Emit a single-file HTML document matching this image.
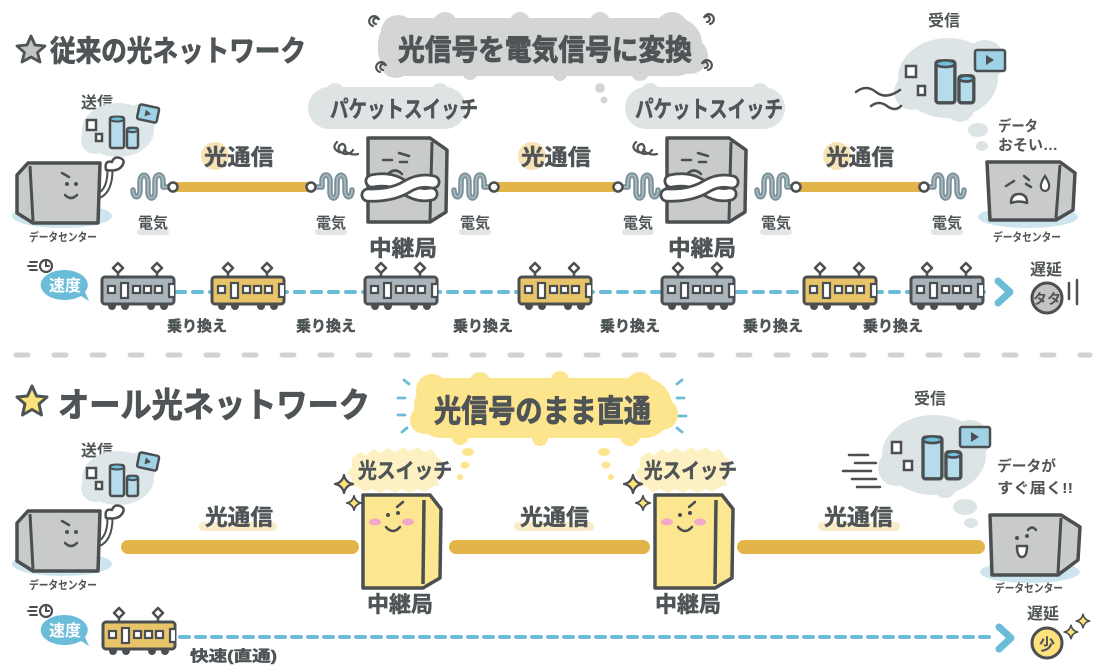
<!DOCTYPE html>
<html><head><meta charset="utf-8">
<style>
html,body{margin:0;padding:0;background:#fff;}
svg{display:block;}
text{font-family:"Liberation Sans","Noto Sans CJK JP",sans-serif;font-weight:bold;fill:#4f5456;}
.thick{stroke:#4f5456;stroke-width:0.9;stroke-linejoin:round;}
.mid{stroke:#4f5456;stroke-width:0.5;stroke-linejoin:round;}
</style></head>
<body>
<svg width="1101" height="672" viewBox="0 0 1101 672" xmlns="http://www.w3.org/2000/svg">
<defs>
  <g id="train">
    <path d="M16,-14 l5,5 l-5,5 l-5,-5z M55,-14 l5,5 l-5,5 l-5,-5z" fill="#fff" stroke="#4b4f51" stroke-width="2.5" stroke-linejoin="round"/>
    <path d="M16,-4 v4 M55,-4 v4" stroke="#4b4f51" stroke-width="2.5"/>
    <circle cx="10" cy="29" r="4" fill="#4b4f51"/><circle cx="23" cy="29" r="4" fill="#4b4f51"/>
    <circle cx="49" cy="29" r="4" fill="#4b4f51"/><circle cx="62" cy="29" r="4" fill="#4b4f51"/>
    <rect x="0" y="0" width="72" height="27" rx="3" fill="currentColor" stroke="#4b4f51" stroke-width="3"/>
    <g fill="#fff" stroke="#4b4f51" stroke-width="2.2">
      <rect x="6" y="9" width="7" height="7"/><rect x="19" y="6" width="7" height="15"/>
      <rect x="31" y="9" width="7" height="7"/><rect x="42" y="9" width="7" height="7"/>
      <rect x="53" y="9" width="7" height="7"/><path d="M72,7 h-5 v13 h5"/>
    </g>
  </g>
  <path id="wavep" d="M0,3 C0,12 7,12 7,3 L7,-5 C7,-14 15,-14 15,-5 L15,5 C15,13 22,13 22,5 L22,-6 C22,-14 30,-14 30,-6 L30,0 L36,0"/>
  <g id="wave">
    <use href="#wavep" fill="none" stroke="#7b9099" stroke-width="5.5" stroke-linecap="round" stroke-linejoin="round"/>
    <use href="#wavep" fill="none" stroke="#a3b5bc" stroke-width="2" stroke-linecap="round" stroke-linejoin="round"/>
  </g>
  <g id="spark"><path d="M0,-9 Q1.5,-1.5 9,0 Q1.5,1.5 0,9 Q-1.5,1.5 -9,0 Q-1.5,-1.5 0,-9z" fill="#fbe27a" stroke="#4b4f51" stroke-width="2.2" stroke-linejoin="round"/></g>
  <g id="cyls">
    <rect x="0" y="0" width="14" height="31" rx="2" fill="#b6dcec" stroke="#4b4f51" stroke-width="2.5"/>
    <ellipse cx="7" cy="2" rx="7" ry="2.5" fill="#6fc0dd" stroke="#4b4f51" stroke-width="2"/>
    <rect x="17" y="11" width="11" height="20" rx="2" fill="#b6dcec" stroke="#4b4f51" stroke-width="2.5"/>
    <ellipse cx="22.5" cy="13" rx="5.5" ry="2.2" fill="#6fc0dd" stroke="#4b4f51" stroke-width="2"/>
  </g>
</defs>

<!-- ================= TOP SECTION ================= -->
<polygon points="31,36 35,45 45,46 37.5,52.5 40,62 31,57 22,62 24.5,52.5 17,46 27,45" fill="#c3c4c4" stroke="#4f5456" stroke-width="2.8" stroke-linejoin="round"/>
<text class="thick" x="50" y="61" font-size="29" textLength="256" lengthAdjust="spacingAndGlyphs">従来の光ネットワーク</text>

<!-- big gray cloud -->
<g fill="#d4d5d5">
  <rect x="378" y="18" width="324" height="58" rx="26"/>
  <circle cx="398" cy="32" r="17"/><circle cx="445" cy="24" r="12"/><circle cx="520" cy="22" r="10"/>
  <circle cx="600" cy="22" r="10"/><circle cx="672" cy="28" r="16"/><circle cx="690" cy="56" r="18"/>
  <circle cx="640" cy="72" r="9"/><circle cx="560" cy="74" r="7"/><circle cx="470" cy="72" r="8"/><circle cx="396" cy="62" r="16"/>
</g>
<text class="thick" x="398" y="60" font-size="29" textLength="294" lengthAdjust="spacingAndGlyphs">光信号を電気信号に変換</text>
<g fill="none" stroke="#4f5456" stroke-width="2.2" stroke-linecap="round">
  <path d="M373,26 a5,5 0 1,1 6,-6 a3,3 0 1,0 -3,4"/>
  <path d="M380,72 a5,5 0 1,1 6,-6 a3,3 0 1,0 -3,4"/>
  <path d="M710,24 a5,5 0 1,0 -6,-6 a3,3 0 1,1 3,4"/>
  <path d="M708,70 a5,5 0 1,0 -6,-6 a3,3 0 1,1 3,4"/>
</g>
<circle cx="600" cy="88" r="5" fill="#d4d5d5"/><circle cx="604" cy="100" r="3.5" fill="#d4d5d5"/>

<!-- packet switch bubbles -->
<g fill="#dee3e4">
  <rect x="308" y="87" width="158" height="42" rx="21"/><circle cx="335" cy="92" r="9"/><circle cx="440" cy="92" r="9"/>
  <rect x="625" y="87" width="160" height="42" rx="21"/><circle cx="650" cy="92" r="9"/><circle cx="760" cy="92" r="9"/>
</g>
<text class="mid" x="330" y="117" font-size="23" textLength="148" lengthAdjust="spacingAndGlyphs">パケットスイッチ</text>
<text class="mid" x="635" y="117" font-size="23" textLength="148" lengthAdjust="spacingAndGlyphs">パケットスイッチ</text>

<!-- send cloud top-left -->
<text x="97" y="108" font-size="16" text-anchor="middle">送信</text>
<g fill="#dde6e8"><ellipse cx="118" cy="130" rx="36" ry="27"/><circle cx="95" cy="140" r="14"/><circle cx="140" cy="120" r="16"/></g>
<rect x="87" y="120" width="9" height="10" fill="#fff" stroke="#4b4f51" stroke-width="2.5"/>
<rect x="96" y="134" width="6" height="7" fill="#fff" stroke="#4b4f51" stroke-width="2.5"/>
<use href="#cyls" x="110" y="117"/>
<g transform="rotate(12 148 114)"><rect x="138" y="106" width="20" height="15" rx="2" fill="#9fd2e6" stroke="#4b4f51" stroke-width="2.5"/><path d="M145,110 l6,3.5 l-6,3.5z" fill="#4b4f51"/></g>

<!-- left datacenter top -->
<ellipse cx="62" cy="216" rx="50" ry="12" fill="#cde5ee"/>
<path d="M98,196 C108,192 110,180 110,170" fill="none" stroke="#4b4f51" stroke-width="7" stroke-linecap="round"/>
<path d="M98,196 C108,192 110,180 110,170" fill="none" stroke="#fff" stroke-width="3" stroke-linecap="round"/>
<path d="M106,170 q-2,-10 6,-8 q2,-6 8,-4 q6,2 2,8 q-4,6 -16,4z" fill="#fff" stroke="#4b4f51" stroke-width="2.5" stroke-linejoin="round"/>
<polygon points="28,163 100,163 98,223 33,223 17,213 17,175" fill="#c9caca" stroke="#4b4f51" stroke-width="3.5" stroke-linejoin="round"/>
<line x1="30" y1="166" x2="33" y2="221" stroke="#4b4f51" stroke-width="3"/>
<g stroke="#4b4f51" stroke-width="2.5" stroke-linecap="round" fill="none">
  <path d="M62,173 l7,4"/><path d="M65,195 q6,6 12,0"/>
</g>
<circle cx="67" cy="184" r="2" fill="#4b4f51"/><circle cx="76" cy="184" r="2" fill="#4b4f51"/>
<text x="63" y="241" font-size="11.5" text-anchor="middle" textLength="68" lengthAdjust="spacingAndGlyphs">データセンター</text>

<!-- yellow lines top -->
<g stroke="#e2b44a" stroke-width="10" stroke-linecap="round">
  <line x1="177" y1="187" x2="307" y2="187"/><line x1="498" y1="187" x2="613" y2="187"/><line x1="800" y1="187" x2="920" y2="187"/>
</g>
<!-- waves -->
<use href="#wave" x="133" y="187"/>
<use href="#wave" transform="translate(352,187) scale(-1,1)"/>
<use href="#wave" x="454" y="187"/>
<use href="#wave" transform="translate(658,187) scale(-1,1)"/>
<use href="#wave" x="757" y="187"/>
<use href="#wave" transform="translate(964,187) scale(-1,1)"/>
<g fill="#fff" stroke="#4b4f51" stroke-width="2.5">
  <circle cx="173" cy="187" r="4.5"/><circle cx="311" cy="187" r="4.5"/><circle cx="494" cy="187" r="4.5"/>
  <circle cx="618" cy="187" r="4.5"/><circle cx="796" cy="187" r="4.5"/><circle cx="924" cy="187" r="4.5"/>
</g>
<!-- 光通信 top -->
<g fill="#f8e3b6"><circle cx="215" cy="156" r="14"/><circle cx="532" cy="156" r="14"/><circle cx="837" cy="156" r="14"/></g>
<text class="mid" x="204" y="165" font-size="22" textLength="70" lengthAdjust="spacingAndGlyphs">光通信</text>
<text class="mid" x="521" y="165" font-size="22" textLength="70" lengthAdjust="spacingAndGlyphs">光通信</text>
<text class="mid" x="826" y="165" font-size="22" textLength="68" lengthAdjust="spacingAndGlyphs">光通信</text>
<!-- 電気 -->
<g fill="#e1e5e6">
  <rect x="137" y="229" width="32" height="6" rx="3"/><rect x="315" y="229" width="32" height="6" rx="3"/>
  <rect x="459" y="229" width="32" height="6" rx="3"/><rect x="622" y="229" width="32" height="6" rx="3"/>
  <rect x="760" y="229" width="32" height="6" rx="3"/><rect x="931" y="229" width="32" height="6" rx="3"/>
</g>
<g font-size="15" text-anchor="middle">
  <text x="153" y="228">電気</text><text x="331" y="228">電気</text><text x="475" y="228">電気</text>
  <text x="638" y="228">電気</text><text x="776" y="228">電気</text><text x="947" y="228">電気</text>
</g>

<!-- relays top (gray grumpy) -->
<g id="relayTop">
  <path d="M337,142 q-6,6 2,10 q8,2 6,-6 q-2,-4 -6,0 q-2,6 6,8 q6,0 8,-4" fill="none" stroke="#4f5456" stroke-width="2.2" stroke-linecap="round"/>
  <path d="M344,150 q6,6 14,4" fill="none" stroke="#4f5456" stroke-width="2.2" stroke-linecap="round"/>
  <polygon points="368,138 430,138 447,150 446,212 430,222 368,222" fill="#c9caca" stroke="#4b4f51" stroke-width="3.5" stroke-linejoin="round"/>
  <line x1="432" y1="142" x2="430" y2="220" stroke="#4b4f51" stroke-width="3"/>
  <g stroke="#4b4f51" stroke-width="2.5" stroke-linecap="round" fill="none">
    <path d="M399,153 l10,3"/><path d="M383,160 h9"/><path d="M400,162 h7"/><path d="M388,174 q7,-7 14,0"/>
  </g>
  <path d="M372,181 Q392,177 405,188 Q418,197 431,194" fill="none" stroke="#4b4f51" stroke-width="15" stroke-linecap="round"/>
  <path d="M372,181 Q392,177 405,188 Q418,197 431,194" fill="none" stroke="#fff" stroke-width="9.5" stroke-linecap="round"/>
  <path d="M368,195 Q392,196 408,186 Q420,179 433,182" fill="none" stroke="#4b4f51" stroke-width="15" stroke-linecap="round"/>
  <path d="M368,195 Q392,196 408,186 Q420,179 433,182" fill="none" stroke="#fff" stroke-width="9.5" stroke-linecap="round"/>
</g>
<use href="#relayTop" x="299" y="0"/>
<text class="mid" x="403" y="256" font-size="22" text-anchor="middle" textLength="68" lengthAdjust="spacingAndGlyphs">中継局</text>
<text class="mid" x="702" y="256" font-size="22" text-anchor="middle" textLength="68" lengthAdjust="spacingAndGlyphs">中継局</text>

<!-- receive top right -->
<text x="944" y="26" font-size="16" text-anchor="middle">受信</text>
<g fill="#dce4e6"><ellipse cx="948" cy="78" rx="50" ry="40"/><circle cx="912" cy="92" r="18"/><circle cx="985" cy="60" r="20"/><circle cx="960" cy="108" r="14"/></g>
<rect x="906" y="66" width="10" height="11" fill="#fff" stroke="#4b4f51" stroke-width="2.5"/>
<rect x="918" y="86" width="7" height="9" fill="#fff" stroke="#4b4f51" stroke-width="2.5"/>
<g transform="translate(936,61) scale(1.35)"><use href="#cyls"/></g>
<rect x="975" y="50" width="30" height="21" rx="2" fill="#9fd2e6" stroke="#4b4f51" stroke-width="2.5"/>
<path d="M986,55 l8,5 l-8,5z" fill="#4b4f51"/>
<g fill="none" stroke="#4b4f51" stroke-width="2.5" stroke-linecap="round">
  <path d="M856,92 q10,-8 20,0 t24,-2"/><path d="M871,106 q8,-6 16,0 t14,0"/>
</g>
<g fill="#dce4e6"><ellipse cx="978" cy="130" rx="10" ry="7"/><ellipse cx="982" cy="146" rx="6" ry="5"/></g>
<text x="998" y="131" font-size="15" textLength="40" lengthAdjust="spacingAndGlyphs">データ</text>
<text x="998" y="150" font-size="15" textLength="60" lengthAdjust="spacingAndGlyphs">おそい…</text>

<!-- right datacenter top (sad) -->
<ellipse cx="1028" cy="217" rx="50" ry="11" fill="#cde5ee"/>
<polygon points="987,162 1060,162 1075,173 1073,210 1056,220 990,220" fill="#c9caca" stroke="#4b4f51" stroke-width="3.5" stroke-linejoin="round"/>
<line x1="1060" y1="165" x2="1056" y2="218" stroke="#4b4f51" stroke-width="3"/>
<g stroke="#4b4f51" stroke-width="2.5" stroke-linecap="round" fill="none">
  <path d="M1006,186 l8,-5"/><path d="M1024,176 l5,4 M1026,184 l5,3"/>
</g>
<path d="M1011,203 q0,-9 8,-9 q8,0 8,9 q-8,-3 -16,0z" fill="#fff" stroke="#4b4f51" stroke-width="2.5" stroke-linejoin="round"/>
<path d="M1045,176 q-5,8 -4,11 a4,4 0 0,0 8,0 q1,-3 -4,-11z" fill="#fff" stroke="#4b4f51" stroke-width="2.2"/>
<text x="1027" y="241" font-size="11.5" text-anchor="middle" textLength="68" lengthAdjust="spacingAndGlyphs">データセンター</text>

<!-- speed row top -->
<line x1="176" y1="292" x2="990" y2="292" stroke="#6bbcd9" stroke-width="4" stroke-dasharray="9 8" stroke-linecap="round"/>
<use href="#train" x="102" y="277" color="#a9b5bb"/>
<use href="#train" x="212" y="277" color="#e8c468"/>
<use href="#train" x="365" y="277" color="#a9b5bb"/>
<use href="#train" x="519" y="277" color="#e8c468"/>
<use href="#train" x="662" y="277" color="#a9b5bb"/>
<use href="#train" x="804" y="277" color="#e8c468"/>
<use href="#train" x="911" y="277" color="#a9b5bb"/>
<path d="M998,281 l12,11 l-12,11" fill="none" stroke="#6bbcd9" stroke-width="7" stroke-linecap="round" stroke-linejoin="round"/>
<text x="1046" y="275" font-size="16" text-anchor="middle">遅延</text>
<circle cx="1047" cy="298" r="15" fill="#c4c4c4" stroke="#4b4f51" stroke-width="3"/>
<text x="1047" y="304" font-size="14" text-anchor="middle">タタ</text>
<path d="M1069,283 v16 M1077,280 v24" stroke="#4b4f51" stroke-width="2.5" stroke-linecap="round"/>
<!-- 速度 top -->
<path d="M65,270 a24,15 0 1,0 16,26 l8,5 l-4,-9 a24,15 0 0,0 -20,-22z" fill="#6bbcd9"/>
<text x="65" y="291" font-size="16" text-anchor="middle" style="fill:#fff">速度</text>
<circle cx="46" cy="266" r="6" fill="#fff" stroke="#4b4f51" stroke-width="2.2"/>
<path d="M46,262 v4 h3 M30,262 h7 M28,266 h8 M30,270 h7" stroke="#4b4f51" stroke-width="2" fill="none" stroke-linecap="round"/>
<!-- 乗り換え -->
<g font-size="15" text-anchor="middle">
  <text class="mid" x="197" y="331">乗り換え</text><text class="mid" x="326" y="331">乗り換え</text><text class="mid" x="483" y="331">乗り換え</text>
  <text class="mid" x="630" y="331">乗り換え</text><text class="mid" x="773" y="331">乗り換え</text><text class="mid" x="893" y="331">乗り換え</text>
</g>

<!-- separator -->
<line x1="16" y1="355" x2="1090" y2="355" stroke="#d2d2d2" stroke-width="5" stroke-dasharray="12 26" stroke-linecap="round"/>

<!-- ================= BOTTOM SECTION ================= -->
<polygon points="32,386 36.5,396 47,397 39,404 41.5,415 32,409.5 22.5,415 25,404 17,397 27.5,396" fill="#fbe27a" stroke="#4f5456" stroke-width="3" stroke-linejoin="round"/>
<text class="thick" x="58" y="417" font-size="34" textLength="312" lengthAdjust="spacingAndGlyphs">オール光ネットワーク</text>

<!-- yellow cloud -->
<g fill="#fde58d">
  <rect x="414" y="378" width="258" height="60" rx="28"/>
  <circle cx="432" cy="390" r="16"/><circle cx="480" cy="382" r="10"/><circle cx="560" cy="380" r="9"/>
  <circle cx="640" cy="386" r="14"/><circle cx="662" cy="414" r="16"/><circle cx="630" cy="436" r="10"/>
  <circle cx="540" cy="438" r="8"/><circle cx="460" cy="436" r="9"/><circle cx="424" cy="420" r="14"/>
</g>
<text class="thick" x="434" y="422" font-size="31" textLength="217" lengthAdjust="spacingAndGlyphs">光信号のまま直通</text>
<g stroke="#6bbcd9" stroke-width="2.8" stroke-linecap="round">
  <path d="M404,380 l5,4 M398,398 h7 M398,415 h7 M402,432 l5,-4"/>
  <path d="M682,380 l-5,4 M684,398 h-7 M686,416 h-7 M682,432 l-5,-4"/>
</g>
<g fill="#fde58d">
  <ellipse cx="468" cy="452" rx="6" ry="4"/><ellipse cx="465" cy="465" rx="4.5" ry="3.5"/><circle cx="460" cy="477" r="3"/>
  <ellipse cx="604" cy="452" rx="6" ry="4"/><ellipse cx="606" cy="465" rx="4.5" ry="3.5"/><circle cx="611" cy="477" r="3"/>
</g>
<!-- 光スイッチ bursts -->
<g id="burst">
  <path d="M352,458 l8,-6 l6,3 l8,-6 l6,4 l8,-5 l7,4 l8,-5 l7,4 l8,-4 l6,5 l8,-3 l4,7 l6,5 l-4,6 l5,6 l-6,5 l2,7 l-8,2 l-6,5 l-8,-3 l-7,4 l-8,-4 l-7,4 l-8,-4 l-7,4 l-8,-4 l-7,3 l-6,-5 l-8,-1 l1,-7 l-5,-6 l5,-6z" fill="#fdf0c2"/>
</g>
<use href="#burst" x="288" y="0"/>
<text class="mid" x="358" y="478" font-size="21" textLength="94" lengthAdjust="spacingAndGlyphs">光スイッチ</text>
<text class="mid" x="644" y="478" font-size="21" textLength="93" lengthAdjust="spacingAndGlyphs">光スイッチ</text>
<use href="#spark" x="344" y="484"/><use href="#spark" transform="translate(354,503) scale(0.8)"/>
<use href="#spark" x="633" y="484"/><use href="#spark" transform="translate(643,503) scale(0.8)"/>

<!-- bottom yellow lines -->
<g stroke="#e2b44a" stroke-width="14" stroke-linecap="round">
  <line x1="128" y1="547" x2="352" y2="547"/><line x1="456" y1="547" x2="643" y2="547"/><line x1="744" y1="547" x2="978" y2="547"/>
</g>
<g fill="#faecc9">
  <rect x="199" y="522" width="78" height="9" rx="4.5"/><rect x="514" y="522" width="80" height="9" rx="4.5"/><rect x="818" y="522" width="82" height="9" rx="4.5"/>
</g>
<g font-size="22">
  <text class="mid" x="205" y="525" textLength="68" lengthAdjust="spacingAndGlyphs">光通信</text>
  <text class="mid" x="520" y="525" textLength="69" lengthAdjust="spacingAndGlyphs">光通信</text>
  <text class="mid" x="824" y="525" textLength="69" lengthAdjust="spacingAndGlyphs">光通信</text>
</g>

<!-- bottom relays (yellow happy) -->
<g id="relayBot">
  <polygon points="363,495 430,495 441,509 440,578 423,588 363,588" fill="#fde690" stroke="#4b4f51" stroke-width="3.5" stroke-linejoin="round"/>
  <line x1="424" y1="500" x2="423" y2="584" stroke="#4b4f51" stroke-width="3.5"/>
  <ellipse cx="375" cy="522" rx="6" ry="3.5" fill="#f3a8c8"/><ellipse cx="408" cy="522" rx="6" ry="3.5" fill="#f3a8c8"/>
  <g stroke="#4b4f51" stroke-width="2.5" stroke-linecap="round" fill="none">
    <path d="M397,507 l6,-5"/><path d="M386,527 q7,8 14,0"/>
  </g>
  <circle cx="388" cy="515" r="2" fill="#4b4f51"/><circle cx="398" cy="513" r="2" fill="#4b4f51"/>
</g>
<use href="#relayBot" x="292" y="0"/>
<text class="mid" x="400" y="612" font-size="22" text-anchor="middle" textLength="66" lengthAdjust="spacingAndGlyphs">中継局</text>
<text class="mid" x="688" y="612" font-size="22" text-anchor="middle" textLength="66" lengthAdjust="spacingAndGlyphs">中継局</text>

<!-- left datacenter bottom -->
<g transform="translate(0,348)">
  <text x="97" y="108" font-size="16" text-anchor="middle">送信</text>
  <g fill="#dde6e8"><ellipse cx="118" cy="130" rx="36" ry="27"/><circle cx="95" cy="140" r="14"/><circle cx="140" cy="120" r="16"/></g>
  <rect x="87" y="120" width="9" height="10" fill="#fff" stroke="#4b4f51" stroke-width="2.5"/>
  <rect x="96" y="134" width="6" height="7" fill="#fff" stroke="#4b4f51" stroke-width="2.5"/>
  <use href="#cyls" x="110" y="117"/>
  <g transform="rotate(12 148 114)"><rect x="138" y="106" width="20" height="15" rx="2" fill="#9fd2e6" stroke="#4b4f51" stroke-width="2.5"/><path d="M145,110 l6,3.5 l-6,3.5z" fill="#4b4f51"/></g>
  <ellipse cx="62" cy="216" rx="50" ry="12" fill="#cde5ee"/>
  <path d="M98,196 C108,192 110,180 110,170" fill="none" stroke="#4b4f51" stroke-width="7" stroke-linecap="round"/>
  <path d="M98,196 C108,192 110,180 110,170" fill="none" stroke="#fff" stroke-width="3" stroke-linecap="round"/>
  <path d="M106,170 q-2,-10 6,-8 q2,-6 8,-4 q6,2 2,8 q-4,6 -16,4z" fill="#fff" stroke="#4b4f51" stroke-width="2.5" stroke-linejoin="round"/>
  <polygon points="28,163 100,163 98,223 33,223 17,213 17,175" fill="#c9caca" stroke="#4b4f51" stroke-width="3.5" stroke-linejoin="round"/>
  <line x1="30" y1="166" x2="33" y2="221" stroke="#4b4f51" stroke-width="3"/>
  <g stroke="#4b4f51" stroke-width="2.5" stroke-linecap="round" fill="none"><path d="M62,173 l7,4"/><path d="M65,195 q6,6 12,0"/></g>
  <circle cx="67" cy="184" r="2" fill="#4b4f51"/><circle cx="76" cy="184" r="2" fill="#4b4f51"/>
  <text x="63" y="241" font-size="11.5" text-anchor="middle" textLength="68" lengthAdjust="spacingAndGlyphs">データセンター</text>
</g>

<!-- receive bottom right -->
<text x="930" y="404" font-size="16" text-anchor="middle">受信</text>
<g fill="#dce4e6"><ellipse cx="934" cy="455" rx="52" ry="40"/><circle cx="896" cy="468" r="18"/><circle cx="970" cy="440" r="20"/><circle cx="945" cy="486" r="12"/></g>
<rect x="892" y="442" width="9" height="11" fill="#fff" stroke="#4b4f51" stroke-width="2.5"/>
<rect x="904" y="461" width="8" height="9" fill="#fff" stroke="#4b4f51" stroke-width="2.5"/>
<g transform="translate(923,437) scale(1.35)"><use href="#cyls"/></g>
<rect x="960" y="427" width="30" height="20" rx="2" fill="#9fd2e6" stroke="#4b4f51" stroke-width="2.5"/>
<path d="M971,432 l8,5 l-8,5z" fill="#4b4f51"/>
<g stroke="#4b4f51" stroke-width="2.5" stroke-linecap="round">
  <path d="M849,455 h19 M855,463 h21 M843,471 h28 M852,479 h24 M857,487 h23"/>
</g>
<g fill="#dce4e6"><ellipse cx="965" cy="507" rx="12" ry="8"/><ellipse cx="971" cy="523" rx="7" ry="5"/></g>
<text x="997" y="471" font-size="15" textLength="59" lengthAdjust="spacingAndGlyphs">データが</text>
<text x="997" y="493" font-size="15" textLength="76" lengthAdjust="spacingAndGlyphs">すぐ届く!!</text>

<!-- right datacenter bottom (happy) -->
<ellipse cx="1030" cy="572" rx="50" ry="11" fill="#cde5ee"/>
<polygon points="990,515 1061,515 1080,527 1078,560 1058,575 992,575" fill="#c9caca" stroke="#4b4f51" stroke-width="3.5" stroke-linejoin="round"/>
<line x1="1061" y1="518" x2="1058" y2="573" stroke="#4b4f51" stroke-width="3"/>
<path d="M1028,530 q4,-5 8,0" fill="none" stroke="#4b4f51" stroke-width="2.5" stroke-linecap="round"/>
<circle cx="1017" cy="538" r="2" fill="#4b4f51"/><circle cx="1027" cy="536" r="2" fill="#4b4f51"/>
<path d="M1017,546 h10 q0,11 -5,11 q-5,0 -5,-11z" fill="#fff" stroke="#4b4f51" stroke-width="2.5" stroke-linejoin="round"/>
<text x="1029" y="592" font-size="11.5" text-anchor="middle" textLength="68" lengthAdjust="spacingAndGlyphs">データセンター</text>

<!-- speed row bottom -->
<line x1="180" y1="637" x2="992" y2="637" stroke="#6bbcd9" stroke-width="4" stroke-dasharray="9 7" stroke-linecap="round"/>
<use href="#train" x="103" y="622" color="#e8c468"/>
<path d="M999,627 l12,11 l-12,11" fill="none" stroke="#6bbcd9" stroke-width="7" stroke-linecap="round" stroke-linejoin="round"/>
<text x="1043" y="619" font-size="16" text-anchor="middle">遅延</text>
<circle cx="1047" cy="643" r="15" fill="#fde27e" stroke="#4b4f51" stroke-width="3"/>
<text x="1047" y="650" font-size="16" text-anchor="middle">少</text>
<use href="#spark" transform="translate(1071,632) scale(0.75)"/>
<use href="#spark" transform="translate(1083,621) scale(0.75)"/>
<path d="M65,615 a24,15 0 1,0 16,26 l8,5 l-4,-9 a24,15 0 0,0 -20,-22z" fill="#6bbcd9"/>
<text x="65" y="636" font-size="16" text-anchor="middle" style="fill:#fff">速度</text>
<circle cx="46" cy="611" r="6" fill="#fff" stroke="#4b4f51" stroke-width="2.2"/>
<path d="M46,607 v4 h3 M30,607 h7 M28,611 h8 M30,615 h7" stroke="#4b4f51" stroke-width="2" fill="none" stroke-linecap="round"/>
<text class="mid" x="190" y="661" font-size="15" textLength="87" lengthAdjust="spacingAndGlyphs">快速(直通)</text>
</svg>
</body></html>
